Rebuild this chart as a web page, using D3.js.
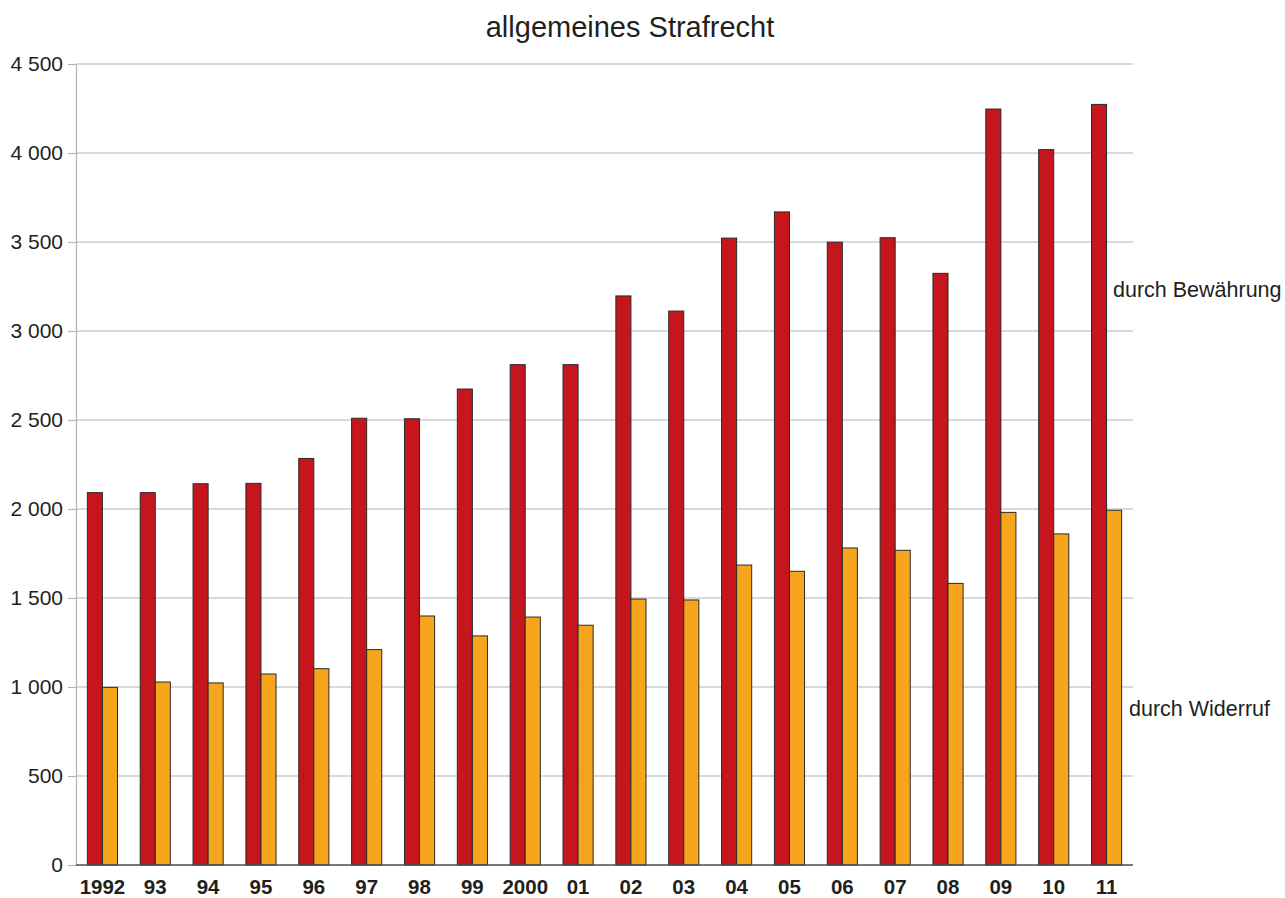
<!DOCTYPE html>
<html>
<head>
<meta charset="utf-8">
<script src="https://cdn.jsdelivr.net/npm/d3@7"></script>
<style>
  body { margin: 0; background: #fff; }
  text { font-family: "Liberation Sans", Arial, Helvetica, sans-serif; fill: #231f20; }
</style>
</head>
<body>
<div id="chart"></div>
<script>
const years = ["1992", "93", "94", "95", "96", "97", "98", "99", "2000", "01",
  "02", "03", "04", "05", "06", "07", "08", "09", "10", "11"];
const bewaehrung = [2092, 2092, 2142, 2144, 2284, 2510, 2507, 2674, 2811, 2811,
  3197, 3112, 3522, 3669, 3499, 3524, 3324, 4247, 4019, 4273];
const widerruf = [998, 1028, 1023, 1073, 1103, 1210, 1399, 1287, 1393, 1347,
  1494, 1489, 1685, 1650, 1781, 1768, 1582, 1981, 1860, 1993];
const yTicks = [0, 500, 1000, 1500, 2000, 2500, 3000, 3500, 4000, 4500];
const seriesNames = ["durch Bewährung", "durch Widerruf"];

const width = 1285, height = 898;
const margin = { top: 64, right: 152, bottom: 33, left: 76 };

const svg = d3.select("#chart").append("svg")
  .attr("width", width)
  .attr("height", height);

const x = d3.scaleBand()
  .domain(years)
  .range([margin.left, width - margin.right])
  .paddingInner(0.43)
  .paddingOuter(0.215);

const x1 = d3.scaleBand()
  .domain([0, 1])
  .range([0, x.bandwidth()]);

const y = d3.scaleLinear()
  .domain([0, 4500])
  .range([height - margin.bottom, margin.top]);

// title
svg.append("text")
  .attr("x", 630)
  .attr("y", 37)
  .attr("text-anchor", "middle")
  .style("font-size", "29px")
  .text("allgemeines Strafrecht");

// gridlines + y ticks
const yAxis = svg.append("g")
  .attr("transform", "translate(" + margin.left + ",0)")
  .call(d3.axisLeft(y)
    .tickValues(yTicks)
    .tickSize(8)
    .tickFormat(function(d) { return d3.format(",")(d).replace(",", " "); }));
yAxis.select(".domain").attr("stroke", "#b3b3b3").attr("stroke-width", 1.2);
yAxis.selectAll(".tick line").attr("stroke", "#b3b3b3").attr("stroke-width", 1.2);
yAxis.selectAll(".tick text")
  .attr("x", -13)
  .style("font-size", "21px")
  .style("font-family", "'Liberation Sans', Arial, sans-serif")
  .attr("fill", "#231f20");

svg.append("g")
  .selectAll("line")
  .data(yTicks.filter(function(d) { return d > 0; }))
  .enter()
  .append("line")
  .attr("x1", margin.left)
  .attr("x2", width - margin.right)
  .attr("y1", function(d) { return y(d); })
  .attr("y2", function(d) { return y(d); })
  .attr("stroke", "#b3b3b3")
  .attr("stroke-width", 1.2);

// bars
const groups = svg.append("g")
  .selectAll("g")
  .data(years)
  .enter()
  .append("g")
  .attr("transform", function(d) { return "translate(" + x(d) + ",0)"; });

groups.append("rect")
  .attr("x", x1(0))
  .attr("width", x1.bandwidth())
  .attr("y", function(d, i) { return y(bewaehrung[i]); })
  .attr("height", function(d, i) { return y(0) - y(bewaehrung[i]); })
  .attr("fill", "#c4161c")
  .attr("stroke", "#2b2b2b")
  .attr("stroke-width", 1);

groups.append("rect")
  .attr("x", x1(1))
  .attr("width", x1.bandwidth())
  .attr("y", function(d, i) { return y(widerruf[i]); })
  .attr("height", function(d, i) { return y(0) - y(widerruf[i]); })
  .attr("fill", "#f7a51c")
  .attr("stroke", "#2b2b2b")
  .attr("stroke-width", 1);

// x axis
const xAxis = svg.append("g")
  .attr("transform", "translate(0," + y(0) + ")")
  .call(d3.axisBottom(x).tickSize(0).tickPadding(14));
xAxis.select(".domain")
  .attr("d", "M" + margin.left + ",0H" + (width - margin.right))
  .attr("stroke", "#4d4d4d")
  .attr("stroke-width", 1.6);
xAxis.selectAll(".tick text")
  .style("font-size", "20.5px")
  .style("font-weight", "bold")
  .style("font-family", "'Liberation Sans', Arial, sans-serif")
  .attr("fill", "#231f20");

// series labels
svg.append("text")
  .attr("x", 1113)
  .attr("y", 297)
  .style("font-size", "21.5px")
  .text(seriesNames[0]);

svg.append("text")
  .attr("x", 1129)
  .attr("y", 716)
  .style("font-size", "21.5px")
  .text(seriesNames[1]);
</script>
</body>
</html>
